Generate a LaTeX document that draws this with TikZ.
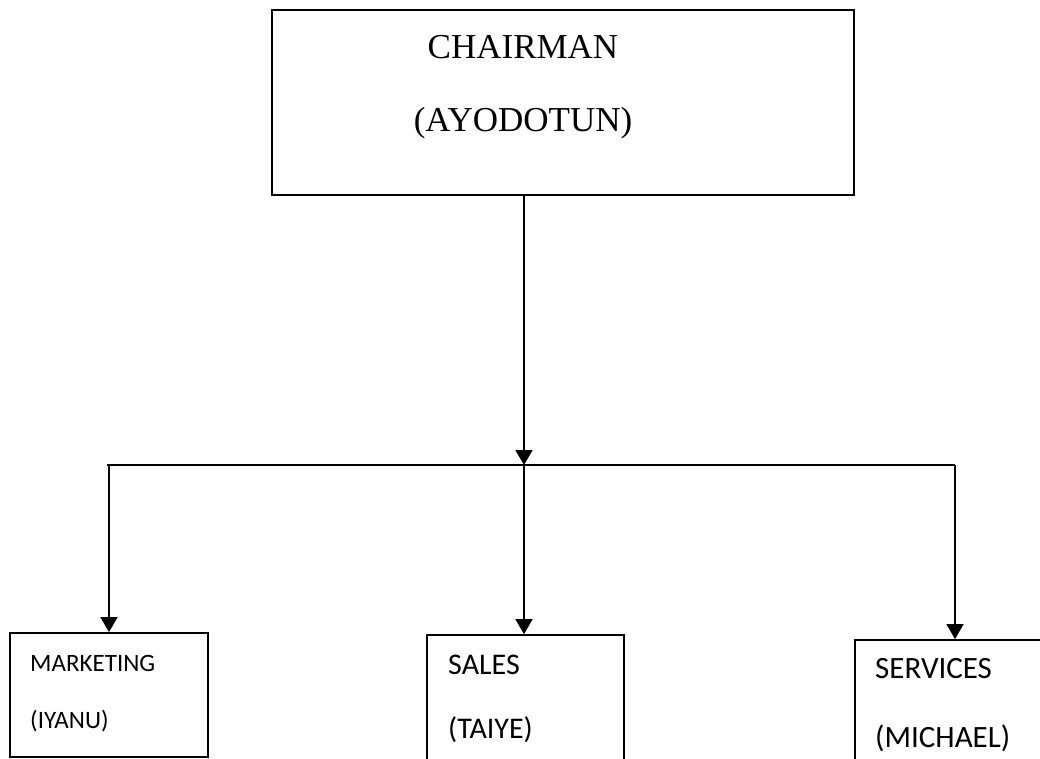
\documentclass[tikz,border=0pt]{standalone}
\usepackage{fontspec}
\setmainfont{Liberation Serif}
\newfontfamily\boxfont{Carlito}
\usetikzlibrary{arrows.meta,calc}

\begin{document}
\begin{tikzpicture}[
  x=1pt, y=-1pt,
  >={Triangle[length=15pt,width=17pt]},
  line join=miter,
  unit/.style={draw, line width=1.8pt, inner sep=0pt},
  link/.style={line width=1.8pt},
  head/.style={font=\fontsize{35}{73}\selectfont, align=center, anchor=base, inner sep=0pt},
  staff/.style={align=left, anchor=base west, inner sep=0pt}
]
  \useasboundingbox (0,0) rectangle (1040,759);
  \begin{scope}
  \clip (0,0) rectangle (1040,759);

  % Boxes
  \node[unit, minimum width=582pt, minimum height=185pt] (chair) at (563,102.5) {};
  \node[unit, minimum width=198pt, minimum height=124pt] (mkt) at (109,695) {};
  \node[unit, minimum width=197pt, minimum height=160pt] (sales) at (525.5,715) {};
  \node[unit, minimum width=200pt, minimum height=160pt] (serv) at (955,720) {};

  % Texts (anchored at the baseline of the last line)
  \node[head] (chairtxt) at (523,132) {CHAIRMAN\\(AYODOTUN)};
  \node[staff, font=\boxfont\fontsize{25}{57}\selectfont] (mkttxt) at (30,728) {MARKETING\\(IYANU)};
  \node[staff, font=\boxfont\fontsize{30}{64}\selectfont] (salestxt) at (448,738) {SALES\\(TAIYE)};
  \node[staff, font=\boxfont\fontsize{31}{69}\selectfont] (servtxt) at (875,747) {SERVICES\\(MICHAEL)};

  % Branch line
  \coordinate (bar) at (524,465);
  \coordinate (barL) at (107,465);
  \coordinate (barR) at (955,465);

  \draw[->, link] (chair.south -| bar) -- (bar);
  \draw[link] (barL) -- (barR);
  \draw[->, link] (mkt.north |- bar) -- (mkt.north);
  \draw[->, link] (bar) -- (bar |- sales.north);
  \draw[->, link] (barR) -- (serv.north);
  \end{scope}
\end{tikzpicture}
\end{document}
